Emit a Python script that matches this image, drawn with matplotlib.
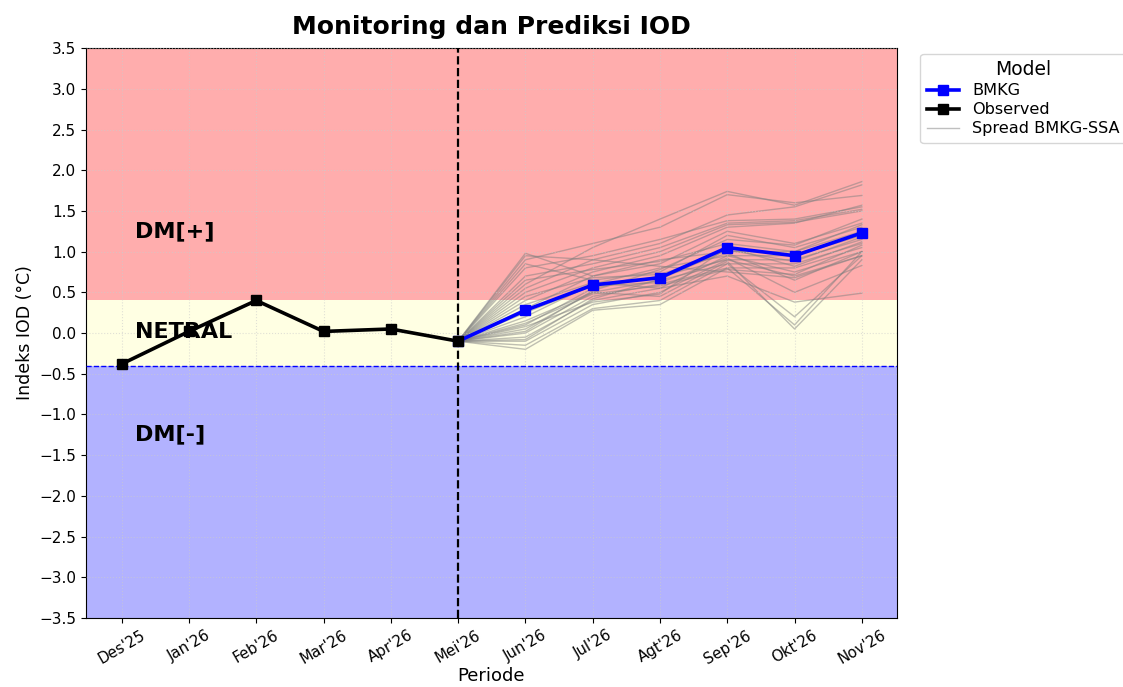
import matplotlib
matplotlib.use("Agg")
import matplotlib.pyplot as plt
import numpy as np

plt.rcParams['font.family'] = ['DejaVu Sans']

periods = ["Des'25", "Jan'26", "Feb'26", "Mar'26", "Apr'26", "Mei'26",
           "Jun'26", "Jul'26", "Agt'26", "Sep'26", "Okt'26", "Nov'26"]
observed = [-0.38, 0.02, 0.40, 0.02, 0.05, -0.10]
bmkg = [-0.10, 0.28, 0.59, 0.68, 1.05, 0.95, 1.23]

# Spread members (Jun..Nov), all starting from the last observed value at Mei'26
spread_members = [
    [0.60, 1.05, 1.40, 1.74, 1.57, 1.86],
    [0.95, 0.90, 1.10, 1.45, 1.55, 1.82],
    [0.90, 1.10, 1.30, 1.70, 1.60, 1.69],
    [0.80, 0.95, 1.15, 1.38, 1.40, 1.55],
    [0.70, 0.85, 1.05, 1.35, 1.38, 1.52],
    [0.50, 0.80, 1.00, 1.33, 1.36, 1.50],
    [0.40, 0.75, 0.95, 1.30, 1.35, 1.57],
    [0.98, 0.70, 0.85, 1.25, 1.10, 1.35],
    [0.85, 0.65, 0.75, 1.20, 1.05, 1.30],
    [0.30, 0.70, 0.90, 1.00, 1.00, 1.33],
    [0.20, 0.60, 0.80, 0.95, 0.95, 1.20],
    [0.10, 0.55, 0.70, 0.90, 0.90, 1.15],
    [0.05, 0.50, 0.65, 0.85, 0.85, 1.10],
    [0.00, 0.45, 0.60, 0.80, 0.80, 1.05],
    [-0.05, 0.40, 0.55, 0.95, 0.75, 1.00],
    [-0.10, 0.35, 0.50, 0.90, 0.70, 0.95],
    [-0.15, 0.30, 0.40, 0.85, 0.20, 0.95],
    [-0.20, 0.28, 0.35, 0.80, 0.10, 1.00],
    [0.15, 0.50, 0.45, 0.88, 0.05, 0.90],
    [0.35, 0.62, 0.55, 0.70, 0.38, 0.49],
    [0.25, 0.58, 0.62, 0.92, 0.50, 0.83],
    [0.45, 0.68, 0.72, 0.98, 0.65, 1.00],
    [0.12, 0.48, 0.58, 0.78, 0.72, 1.08],
    [0.65, 0.78, 0.88, 1.10, 1.00, 1.25],
    [-0.08, 0.42, 0.66, 1.02, 0.88, 1.18],
    [0.02, 0.52, 0.78, 1.15, 1.08, 1.40],
    [0.55, 0.90, 0.82, 0.75, 0.68, 0.95],
    [0.08, 0.38, 0.48, 1.05, 0.82, 1.12],
]

yticks = [-3.5, -3.0, -2.5, -2.0, -1.5, -1.0, -0.5, 0.0, 0.5, 1.0, 1.5, 2.0, 2.5, 3.0, 3.5]

fig = plt.figure(figsize=(11.23, 6.87), dpi=100)
ax = fig.add_axes([0.0766, 0.1004, 0.722, 0.8296])

x_all = np.arange(len(periods))
n_obs = len(observed)
x_obs = x_all[:n_obs]
x_fc = x_all[n_obs - 1:]

ax.axhspan(0.4, 3.5, color='red', alpha=0.32, lw=0, zorder=0)
ax.axhspan(-0.4, 0.4, color='lightyellow', alpha=0.9, lw=0, zorder=0)
ax.axhspan(-3.5, -0.4, color='blue', alpha=0.3, lw=0, zorder=0)
ax.grid(True, linestyle=':', color='#cccccc', alpha=0.6, zorder=1)
ax.set_axisbelow(False)

for i, m in enumerate(spread_members):
    ax.plot(x_fc, [observed[-1]] + m, color='gray', alpha=0.5, lw=1.0, zorder=2,
            label='Spread BMKG-SSA' if i == 0 else None)

ax.axhline(-0.4, color='blue', ls='--', lw=1.0, zorder=3)
ax.axvline(n_obs - 1, color='black', ls='--', lw=1.6, zorder=3)

ax.plot(x_fc, bmkg, color='blue', marker='s', markersize=7, lw=2.6, zorder=5, label='BMKG')
ax.plot(x_obs, observed, color='black', marker='s', markersize=7, lw=2.6, zorder=6, label='Observed')

ax.text(0.2, 1.25, 'DM[+]', fontsize=16, fontweight='bold', va='center', ha='left', zorder=7)
ax.text(0.2, 0.01, 'NETRAL', fontsize=16, fontweight='bold', va='center', ha='left', zorder=7)
ax.text(0.2, -1.24, 'DM[-]', fontsize=16, fontweight='bold', va='center', ha='left', zorder=7)

ax.set_xlim(-0.53, 11.52)
ax.set_ylim(-3.5, 3.5)
ax.set_yticks(yticks)
ax.set_yticklabels([f"{v:.1f}".replace('-', '\u2212') for v in yticks], fontsize=11)
ax.set_xticks(x_all)
ax.set_xticklabels(periods, rotation=30, fontsize=10.8)
ax.set_xlabel('Periode', fontsize=13, labelpad=0)
ax.set_ylabel('Indeks IOD (°C)', fontsize=12.5)
ax.set_title('Monitoring dan Prediksi IOD', fontsize=18, fontweight='bold', pad=10)

handles, labels = ax.get_legend_handles_labels()
order = [labels.index('BMKG'), labels.index('Observed'), labels.index('Spread BMKG-SSA')]
leg = ax.legend([handles[i] for i in order], [labels[i] for i in order],
                title='Model', loc='upper left', bbox_to_anchor=(1.029, 0.99),
                fontsize=11.6, title_fontsize=13.5, frameon=True,
                borderaxespad=0.0, labelspacing=0.25)

fig.savefig('out.png', dpi=100)
